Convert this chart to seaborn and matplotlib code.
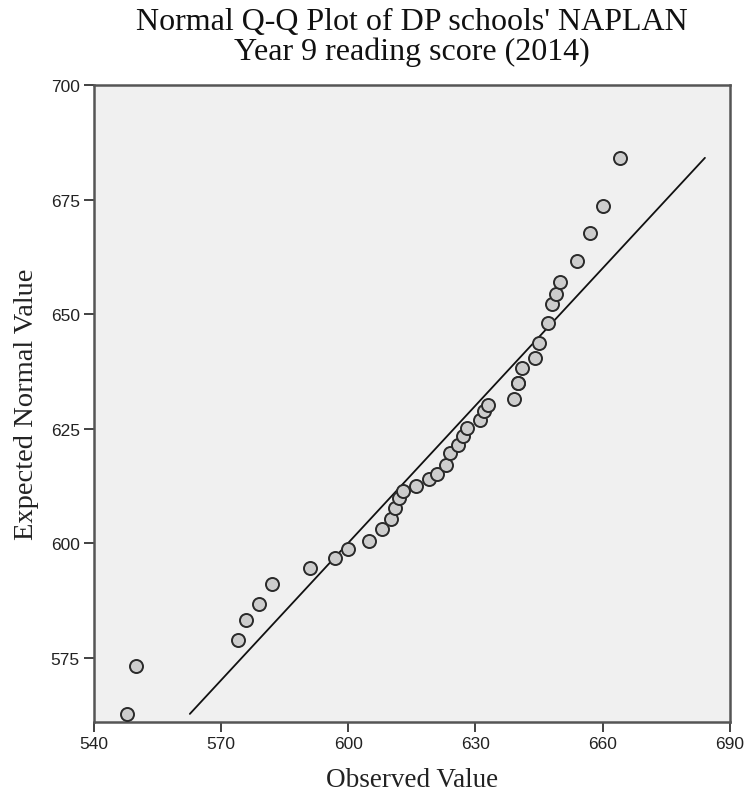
import matplotlib
matplotlib.use("Agg")
import matplotlib.pyplot as plt
import seaborn as sns
import pandas as pd

# Observed school means and their expected normal values
observed = [548, 550, 574, 576, 579, 582, 591, 597, 600, 605, 608, 610, 611,
            612, 613, 616, 619, 621, 623, 624, 626, 627, 628, 631, 632, 633,
            639, 640, 640, 641, 644, 645, 647, 648, 649, 650, 654, 657, 660, 664]
expected = [562.7, 573.1, 578.9, 583.2, 586.7, 591.0, 594.6, 596.7, 598.6,
            600.5, 603.0, 605.2, 607.6, 609.8, 611.3, 612.5, 614.0, 615.1,
            617.1, 619.7, 621.4, 623.3, 625.2, 626.9, 628.8, 630.2, 631.4,
            634.9, 634.9, 638.2, 640.4, 643.7, 648.1, 652.1, 654.4, 657.0,
            661.6, 667.6, 673.6, 684.1]

x_ticks = [540, 570, 600, 630, 660, 690]
y_ticks = [575, 600, 625, 650, 675, 700]

df = pd.DataFrame({"Observed": observed, "Expected": expected})

sns.set_style("ticks")
plt.rcParams["font.family"] = ["Liberation Sans", "DejaVu Sans"]

fig = plt.figure(figsize=(7.47, 8.03), dpi=100)
ax = fig.add_axes([0.1252, 0.1000, 0.8520, 0.7929])
ax.set_facecolor("#f0f0f0")

# reference line y = x across the range of expected values
lo, hi = min(expected), max(expected)
ref = pd.DataFrame({"x": [lo, hi], "y": [lo, hi]})
sns.lineplot(data=ref, x="x", y="y", ax=ax, color="#111111", linewidth=1.3)

sns.scatterplot(data=df, x="Observed", y="Expected", ax=ax, s=88,
                color="#cdcdcd", edgecolor="#2a2a2a", linewidth=1.4, zorder=3)

ax.set_xlim(540, 690)
ax.set_ylim(561, 700)
ax.set_xticks(x_ticks)
ax.set_yticks(y_ticks)
ax.set_xticklabels([str(v) for v in x_ticks])
ax.set_yticklabels([str(v) for v in y_ticks])

for sp in ax.spines.values():
    sp.set_visible(True)
    sp.set_color("#555555")
    sp.set_linewidth(1.8)

ax.tick_params(axis="both", direction="out", length=7, width=1.3,
               color="#333333", labelsize=12.5, labelcolor="#222222", pad=3)

serif = ["Liberation Serif", "DejaVu Serif"]
ax.set_xlabel("Observed Value", family=serif, fontsize=19.5, color="#222222",
              labelpad=12)
ax.set_ylabel("Expected Normal Value", family=serif, fontsize=20.5,
              color="#222222", labelpad=8)
ax.set_title("Normal Q-Q Plot of DP schools' NAPLAN\nYear 9 reading score (2014)",
             family=serif, fontsize=23, color="#111111", pad=19,
             linespacing=1.0)

fig.savefig("out.png", dpi=100, facecolor="white")
